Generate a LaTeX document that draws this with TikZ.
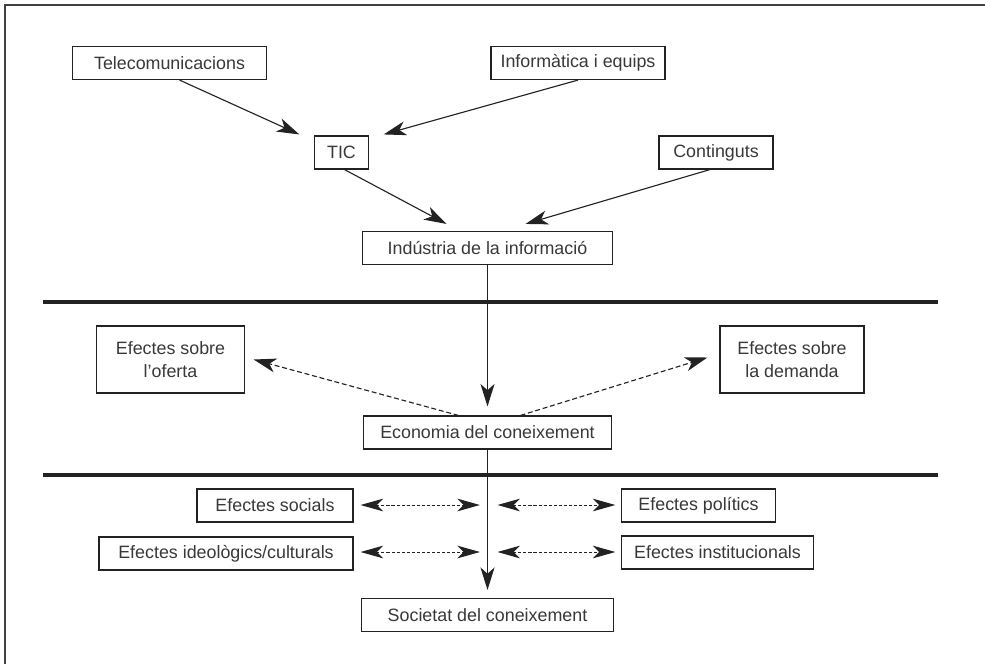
\documentclass[tikz,border=0pt]{standalone}
\usepackage{fontspec}
\setmainfont{Liberation Sans}
\usepackage{tikz}
\usetikzlibrary{calc,arrows.meta}
\usepackage{xcolor}

\definecolor{tinta}{HTML}{222222}
\definecolor{lletra}{HTML}{383838}

\tikzset{
  caixa/.style={draw=tinta, line width=0.8pt, minimum height=0.825cm, inner sep=2pt,
    text=lletra, align=center, font=\fontsize{12.7}{16.4}\selectfont},
  fletxa/.style={draw=tinta, line width=0.8pt, -{Stealth[length=16pt,width=10pt,inset=4.5pt]}},
  puntejada/.style={fletxa, dash pattern=on 3.5pt off 2pt},
  doble/.style={draw=tinta, line width=0.7pt, dash pattern=on 2.2pt off 1.4pt,
    {Stealth[length=16pt,width=9pt,inset=4.5pt]}-{Stealth[length=16pt,width=9pt,inset=4.5pt]}},
  franja/.style={draw=tinta, line width=3.5pt}
}

\begin{document}
\begin{tikzpicture}[x=0.025cm,y=-0.025cm]
\useasboundingbox (0,0) rectangle (985,664);
% marc
\draw [color=black!75, line width=1.2pt] (5,664) -- (5,5) -- (985,5);

% indústria de la informació
\node [caixa, minimum width=4.83cm] (tele) at (169.5,63) {Telecomunicacions};
\node [caixa, minimum width=4.35cm] (info) at (578,63) {Informàtica i equips};
\node [caixa, minimum width=1.33cm] (tic) at (341.5,152.5) {TIC};
\node [caixa, minimum width=2.85cm] (cont) at (716,152.5) {Continguts};
\node [caixa, minimum width=6.25cm] (ind) at (487.5,248) {Indústria de la informació};

\draw [fletxa] ($(tele.south)+(10,0)$) -- ($(tic.north west)+(-15,-1)$);
\draw [fletxa] (info.south) -- ($(tic.north east)+(15,-1)$);
\draw [fletxa] ($(tic.south)+(3,0)$) -- ($(ind.north)+(-41,-7)$);
\draw [fletxa] ($(cont.south)+(-6,0)$) -- ($(ind.north)+(38,-7)$);

\draw [franja] (43,302) -- (938,302);

% economia del coneixement
\node [caixa, minimum width=3.68cm, minimum height=1.675cm] (ofe) at (170.5,359.5) {Efectes sobre\\l’oferta};
\node [caixa, minimum width=3.6cm, minimum height=1.675cm] (dem) at (792,359.5) {Efectes sobre\\la demanda};
\node [caixa, minimum width=6.18cm] (eco) at (487.5,432.5) {Economia del coneixement};

\draw [fletxa, shorten >=0.225cm] (ind.south) -- (eco.north);
\draw [puntejada] ($(eco.north)+(-29,0)$) -- ($(ofe.east)+(9,0)$);
\draw [puntejada] ($(eco.north)+(33,0)$) -- ($(dem.west)+(-12,-2)$);

\draw [franja] (43,475) -- (938,475);

% societat del coneixement
\node [caixa, minimum width=3.9cm] (soc) at (275,505.5) {Efectes socials};
\node [caixa, minimum width=6.35cm] (ide) at (226,553.5) {Efectes ideològics/culturals};
\node [caixa, minimum width=3.83cm] (pol) at (698.5,505.5) {Efectes polítics};
\node [caixa, minimum width=4.78cm] (ins) at (717.5,552.5) {Efectes institucionals};
\node [caixa, minimum width=6.28cm] (sct) at (487.5,615) {Societat del coneixement};

\draw [fletxa, shorten >=0.2cm] (eco.south) -- (sct.north);

\coordinate (eix1) at (487.5,505);
\coordinate (eix2) at (487.5,552);
\draw [doble, shorten <=0.175cm, shorten >=0.19cm] (soc.east |- eix1) -- (eix1);
\draw [doble, shorten <=0.25cm, shorten >=0.15cm] (eix1) -- (pol.west |- eix1);
\draw [doble, shorten <=0.175cm, shorten >=0.19cm] (ide.east |- eix2) -- (eix2);
\draw [doble, shorten <=0.25cm, shorten >=0.15cm] (eix2) -- (ins.west |- eix2);
\end{tikzpicture}
\end{document}
